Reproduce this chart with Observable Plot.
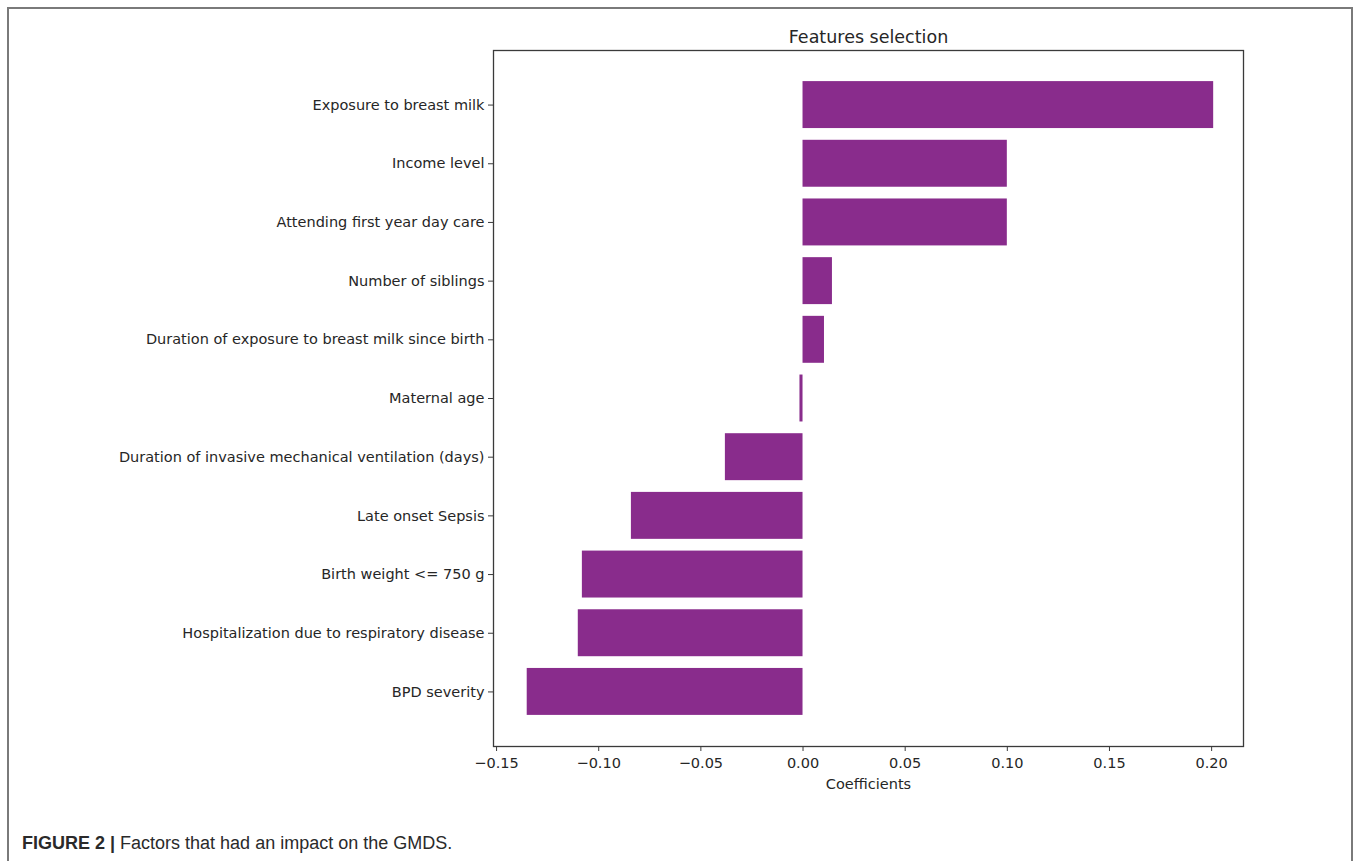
<!DOCTYPE html>
<html>
<head>
<meta charset="utf-8">
<script src="https://cdn.jsdelivr.net/npm/d3@7"></script>
<script src="https://cdn.jsdelivr.net/npm/@observablehq/plot@0.6"></script>
<style>
  html, body { margin: 0; padding: 0; background: #fff; }
  #wrap { position: relative; width: 1360px; height: 861px; overflow: hidden; }
  #border { position: absolute; left: 7px; top: 7px; width: 1346px; height: 900px;
            border: 2px solid #7a7a7a; box-sizing: border-box; }
  #chart { position: absolute; left: 0; top: 0; }
  #caption { position: absolute; left: 22px; top: 833px; font-family: "Liberation Sans", Arial, sans-serif;
             font-size: 18px; color: #2a2a2a; white-space: nowrap; }
  #caption b { font-weight: bold; }
</style>
</head>
<body>
<div id="wrap">
  <div id="border"></div>
  <div id="chart"></div>
  <div id="caption"><b>FIGURE 2 |</b> Factors that had an impact on the GMDS.</div>
</div>
<script>
const features = [
  "Exposure to breast milk",
  "Income level",
  "Attending first year day care",
  "Number of siblings",
  "Duration of exposure to breast milk since birth",
  "Maternal age",
  "Duration of invasive mechanical ventilation (days)",
  "Late onset Sepsis",
  "Birth weight <= 750 g",
  "Hospitalization due to respiratory disease",
  "BPD severity"
];
const coefficients = [0.201, 0.100, 0.100, 0.0144, 0.0105, -0.0015, -0.038, -0.084, -0.108, -0.110, -0.135];
const xTicks = [-0.15, -0.10, -0.05, 0.00, 0.05, 0.10, 0.15, 0.20];

const data = features.map((f, i) => ({feature: f, coef: coefficients[i]}));

const chart = Plot.plot({
  width: 1360,
  height: 800,
  marginLeft: 493,
  marginRight: 117,
  marginTop: 50,
  marginBottom: 54,
  style: {fontFamily: "DejaVu Sans", fontSize: "14.5px", color: "#262626", background: "transparent"},
  x: {domain: [-0.1515, 0.2156], ticks: xTicks, tickFormat: d3.format(".2f"), label: null},
  y: {domain: features, paddingInner: 0.2, paddingOuter: 0.53, round: false, label: null},
  marks: [
    Plot.barX(data, {x1: 0, x2: "coef", y: "feature", fill: "#892c8c"}),
    Plot.frame({stroke: "#3a3a3a", strokeWidth: 1.3}),
    Plot.axisX({ticks: xTicks, tickFormat: d3.format(".2f"), tickSize: 5, tickPadding: 6, fontSize: 14.5, label: null, stroke: "#3a3a3a"}),
    Plot.axisY({tickSize: 5, tickPadding: 4, fontSize: 14.5, label: null, stroke: "#3a3a3a"}),
    Plot.text(["Coefficients"], {frameAnchor: "bottom", dy: 42, fontSize: 14.5, fill: "#262626"}),
    Plot.text(["Features selection"], {frameAnchor: "top", dy: -20, fontSize: 17.5, fill: "#262626"})
  ]
});
document.getElementById("chart").appendChild(chart);
</script>
</body>
</html>
